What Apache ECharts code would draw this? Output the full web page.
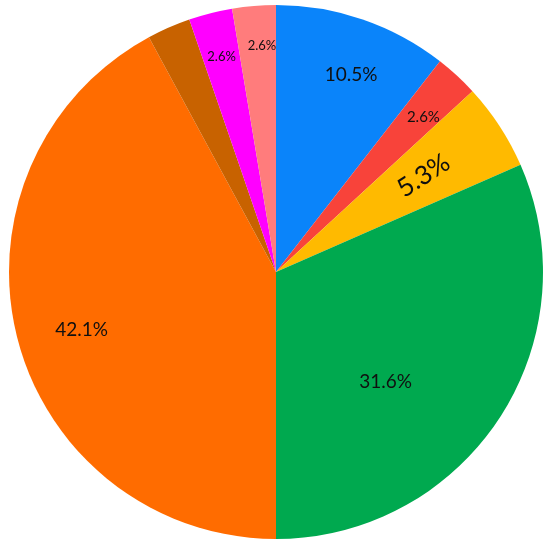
<!DOCTYPE html>
<html>
<head>
<meta charset="utf-8">
<style>
html,body{margin:0;padding:0;background:#fff;}
#chart{width:550px;height:549px;}
</style>
<script src="https://cdn.jsdelivr.net/npm/echarts@6/dist/echarts.min.js"></script>
</head>
<body>
<div id="chart"></div>
<script>
// Data (clockwise from 12 o'clock)
const categories = ['A', 'B', 'C', 'D', 'E', 'F', 'G', 'H'];
const values = [4, 1, 2, 12, 16, 1, 1, 1];
const labelTexts = ['10.5%', '2.6%', '5.3%', '31.6%', '42.1%', '', '2.6%', '2.6%'];

// Styles
const colors = ['#0A84FA', '#F8433A', '#FFBA00', '#00A94F', '#FF6C00', '#C86200', '#FF00FF', '#FF7C7C'];
const labelSizes = [19, 15, 26, 19, 19, 12, 13, 13];
const labelRadius = [0.79, 0.80, 0.66, 0.58, 0.76, 0.8, 0.83, 0.85];
const labelAngleShift = [1.9, 1.0, 0, 11.8, -2.4, 0, 0, 1.2];
const labelRotate = [0, 0, 33, 0, 0, 0, 0, 0];

const CX = 276, CY = 272, R = 267;
const total = values.reduce((a, b) => a + b, 0);
const midAngles = [];
let acc = 0;
values.forEach(v => { midAngles.push((acc + v / 2) / total * 360); acc += v; });

const chart = echarts.init(document.getElementById('chart'), null, {renderer: 'canvas'});
chart.setOption({
  animation: false,
  backgroundColor: '#ffffff',
  series: [{
    type: 'pie',
    center: [CX, CY],
    radius: R,
    startAngle: 90,
    clockwise: true,
    silent: true,
    itemStyle: {borderWidth: 0},
    label: {
      show: true,
      position: 'inside',
      fontFamily: 'Lato, "Open Sans", sans-serif',
      color: '#101010',
      formatter: p => labelTexts[p.dataIndex]
    },
    labelLine: {show: false},
    labelLayout: function (p) {
      const i = p.dataIndex;
      const a = (midAngles[i] + labelAngleShift[i]) * Math.PI / 180;
      const r = labelRadius[i] * R;
      return {
        x: CX + r * Math.sin(a),
        y: CY - r * Math.cos(a),
        align: 'center',
        verticalAlign: 'middle',
        rotate: labelRotate[i]
      };
    },
    data: categories.map((c, i) => ({
      name: c,
      value: values[i],
      itemStyle: {color: colors[i]},
      label: {fontSize: labelSizes[i]}
    }))
  }]
});
</script>
</body>
</html>
